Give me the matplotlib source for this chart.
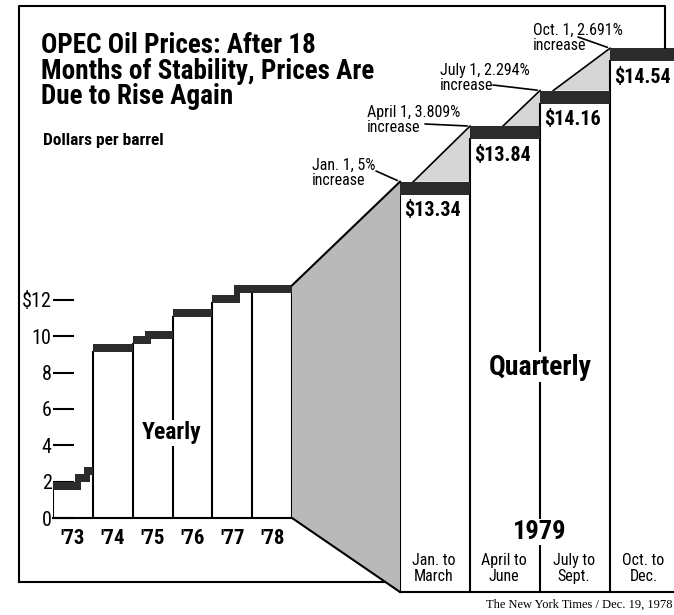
import matplotlib
matplotlib.use('Agg')
import matplotlib.pyplot as plt
import matplotlib.font_manager as fm
from matplotlib.patches import Polygon, Rectangle
from matplotlib.lines import Line2D

# yearly price steps (start of step, dollars per barrel)
step_starts = [1973.0, 1973.63, 1973.86, 1974.0, 1975.0, 1975.38, 1976.0, 1977.0, 1977.62]
step_prices = [2.0, 2.4, 2.8, 9.6, 10.0, 10.3, 11.5, 12.3, 12.8]
years = [1973, 1974, 1975, 1976, 1977, 1978]
year_labels = ["'73", "'74", "'75", "'76", "'77", "'78"]
y_ticks = [0, 2, 4, 6, 8, 10, 12]
y_tick_labels = ['0', '2', '4', '6', '8', '10', '$12']

# 1979 quarterly prices
quarters = ['Jan. to\nMarch', 'April to\nJune', 'July to\nSept.', 'Oct. to\nDec.']
q_prices = [13.34, 13.84, 14.16, 14.54]
q_notes = ['Jan. 1, 5%\nincrease', 'April 1, 3.809%\nincrease',
           'July 1, 2.294%\nincrease', 'Oct. 1, 2.691%\nincrease']

# pick a narrow sans if one is around, the original uses a condensed gothic
names = {f.name for f in fm.fontManager.ttflist}
family = 'Roboto'
for cand in ['Liberation Sans Narrow', 'Roboto Condensed', 'Noto Sans Condensed',
             'Open Sans Condensed', 'Noto Sans SemiCondensed', 'Open Sans SemiCondensed']:
    if cand in names:
        family = cand
        break
plt.rcParams['font.family'] = [family, 'DejaVu Sans']

DARK = '#2b2b2b'
MID = '#b9b9b9'
LIGHT = '#d6d6d6'
LW = 1.5

W, H = 674, 615
fig = plt.figure(figsize=(W / 100, H / 100), dpi=100)
fig.patch.set_facecolor('white')


def fx(x):
    return x / W


def fy(y):
    return 1 - y / H


# ---- yearly panel ----
ax_y = fig.add_axes([fx(53), fy(518), 239 / W, 240 / H])
ax_y.set_xlim(1973, 1979)
ax_y.set_ylim(0, 240 / 18.17)
band_y = 0.44

ends = step_starts[1:] + [1979]
for i, (x0, x1, p) in enumerate(zip(step_starts, ends, step_prices)):
    ax_y.add_patch(Rectangle((x0, p - band_y), x1 - x0, band_y, facecolor=DARK,
                             edgecolor='none', zorder=4))
    # small steps inside a year are joined like a staircase
    if i + 1 < len(step_prices) and abs(x1 - round(x1)) > 1e-6:
        ax_y.add_patch(Rectangle((x1 - 0.07, p - band_y), 0.14,
                                 step_prices[i + 1] - p + band_y,
                                 facecolor=DARK, edgecolor='none', zorder=4))


def price_at(x):
    p = step_prices[0]
    for s, v in zip(step_starts, step_prices):
        if s <= x:
            p = v
    return p


for x in years + [1979]:
    ax_y.plot([x, x], [0, price_at(x) - band_y], color='k', lw=LW, zorder=3)

for s in ['top', 'right', 'left']:
    ax_y.spines[s].set_visible(False)
ax_y.spines['bottom'].set_linewidth(LW)
ax_y.set_yticks(y_ticks, y_tick_labels)
ax_y.tick_params(axis='y', direction='in', length=15, width=LW, pad=1, labelsize=14.5)
ax_y.set_xticks([y + 0.5 for y in years], year_labels)
ax_y.tick_params(axis='x', length=0, pad=8, labelsize=15)
for t in ax_y.get_xticklabels():
    t.set_fontweight('bold')
ax_y.patch.set_alpha(0)

ax_y.text(1975.98, 4.7, 'Yearly', ha='center', va='center', fontsize=17,
          fontweight='bold', zorder=5,
          bbox=dict(facecolor='white', edgecolor='none', pad=1))

# ---- quarterly panel ----
q_lo, q_hi = 9.65, 14.92
ax_q = fig.add_axes([fx(400), fy(592), 280 / W, 586 / H])
ax_q.set_xlim(0, 4)
ax_q.set_ylim(q_lo, q_hi)
ax_q.axis('off')
band_q = 0.117
tri_start = [0.19, 0.47, 0.19]

for i, v in enumerate(q_prices):
    ax_q.add_patch(Rectangle((i, v - band_q), 1, band_q, facecolor=DARK,
                             edgecolor='none', zorder=4, clip_on=False))
    ax_q.plot([i, i], [q_lo, v - band_q], color='k', lw=LW, zorder=3)
    ax_q.text(i + 0.47, v - band_q - 0.06, f'${v:.2f}', ha='center', va='top',
              fontsize=14.5, fontweight='bold')
    ax_q.text(i + 0.48, q_lo + 0.21, quarters[i], ha='center', va='center',
              fontsize=11.5, linespacing=1.05)
for i in range(3):
    v0, v1 = q_prices[i], q_prices[i + 1]
    ax_q.add_patch(Polygon([(i + tri_start[i], v0), (i + 1, v1), (i + 1, v0)],
                           closed=True, facecolor=LIGHT, edgecolor='none', zorder=2))
    ax_q.plot([i + tri_start[i], i + 1], [v0, v1], color='k', lw=1.2, zorder=3)
ax_q.plot([0, 4], [q_lo, q_lo], color='k', lw=LW, clip_on=False)

ax_q.text(2.0, 11.67, 'Quarterly', ha='center', va='center', fontsize=20,
          fontweight='bold', zorder=5,
          bbox=dict(facecolor='white', edgecolor='none', pad=1))
ax_q.text(2.0, 10.19, '1979', ha='center', va='center', fontsize=19,
          fontweight='bold', zorder=5,
          bbox=dict(facecolor='white', edgecolor='none', pad=1))

note_pos = [(312, 158), (367, 105), (440, 63), (533, 23)]
lead_pos = [(376, 171), (425, 124), (493, 85), (578, 37)]
for i, v in enumerate(q_prices):
    fig.text(fx(note_pos[i][0]), fy(note_pos[i][1]), q_notes[i], ha='left', va='top',
             fontsize=11.5, linespacing=1.0)
    ax_q.annotate('', xy=(i, v), xytext=(lead_pos[i][0], H - lead_pos[i][1]),
                  textcoords='figure pixels', annotation_clip=False,
                  arrowprops=dict(arrowstyle='-', lw=1.2, color='k', shrinkA=0, shrinkB=2))

# ---- connecting wedge ----
to_fig = fig.transFigure.inverted()
A = to_fig.transform(ax_y.transData.transform((1979, step_prices[-1])))
B = to_fig.transform(ax_q.transData.transform((0, q_prices[0])))
C = to_fig.transform(ax_q.transData.transform((0, q_lo)))
D = to_fig.transform(ax_y.transData.transform((1979, 0)))
fig.add_artist(Polygon([A, B, C, D], closed=True, facecolor=MID, edgecolor='none',
                       transform=fig.transFigure, zorder=1))
fig.add_artist(Line2D([A[0], B[0]], [A[1], B[1]], color='k', lw=LW, transform=fig.transFigure))
fig.add_artist(Line2D([D[0], C[0]], [D[1], C[1]], color='k', lw=LW, transform=fig.transFigure))

# outer frame
fb = fy(582)
xb = D[0] + (fb - D[1]) / (C[1] - D[1]) * (C[0] - D[0])
q4_top = to_fig.transform(ax_q.transData.transform((3, q_prices[3])))[1]
fig.add_artist(Line2D([fx(19), xb], [fb, fb], color='k', lw=LW, transform=fig.transFigure))
fig.add_artist(Line2D([fx(665), fx(665), fx(19), fx(19)], [q4_top, fy(6), fy(6), fb],
                      color='k', lw=LW, transform=fig.transFigure))

# titles
fig.text(fx(41), fy(32), 'OPEC Oil Prices: After 18\nMonths of Stability, Prices Are\nDue to Rise Again',
         ha='left', va='top', fontsize=19.5, fontweight='bold', linespacing=0.93)
fig.text(fx(43), fy(145), 'Dollars per barrel', ha='left', va='baseline',
         fontsize=12.5, fontweight='bold')
fig.text(fx(672), fy(605), 'The New York Times / Dec. 19, 1978', ha='right', va='center',
         fontsize=9, family=['Liberation Serif', 'DejaVu Serif'])

fig.savefig('out.png', dpi=100, facecolor='white')
